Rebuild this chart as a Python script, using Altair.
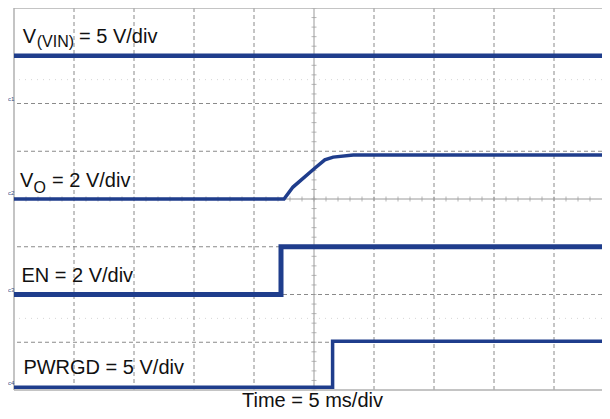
import altair as alt
import pandas as pd

# ---- data (in scope divisions) ----
vin_t = [-5.0, 4.8]
vin_v = [3.0, 3.0]
vo_t = [-5.0, -0.5, -0.35, 0.017, 0.18, 0.32, 0.655, 4.8]
vo_v = [0.0, 0.0, 0.25, 0.65, 0.82, 0.877, 0.92, 0.92]
en_t = [-5.0, -0.55, -0.55, 4.8]
en_v = [-2.0, -2.0, -1.0, -1.0]
pg_t = [-5.0, 0.31, 0.31, 4.8]
pg_v = [-3.94, -3.94, -2.98, -2.98]

grid_x = [-4, -3, -2, -1, 1, 2, 3, 4]
grid_y = [-3, -2, -1, 1, 2, 3]
faint_y = [2.5, -2.5]
ch_labels = ["c1", "c2", "c3", "c4"]
ch_levels = [2.1, 0.12, -1.9, -3.85]

X_DOM = [-5.0, 4.8]
Y_DOM = [-4.0, 4.0]
TRACE = "#1f3d8c"
FONT = "Liberation Sans"

xs = alt.Scale(domain=X_DOM, nice=False, zero=False)
ys = alt.Scale(domain=Y_DOM, nice=False, zero=False)


def trace(ts, vs, sw):
    df = pd.DataFrame({"t": ts, "v": vs, "i": list(range(len(ts)))})
    return alt.Chart(df).mark_line(color=TRACE, strokeWidth=sw, strokeJoin="miter", strokeCap="butt").encode(
        x=alt.X("t:Q", scale=xs, axis=None),
        y=alt.Y("v:Q", scale=ys, axis=None),
        order="i:Q",
    )


# grid
gx = alt.Chart(pd.DataFrame({"x": grid_x})).mark_rule(color="#8a8a8a", strokeWidth=1, strokeDash=[4, 3]).encode(
    x=alt.X("x:Q", scale=xs, axis=None))
gy = alt.Chart(pd.DataFrame({"y": grid_y})).mark_rule(color="#8a8a8a", strokeWidth=1, strokeDash=[4, 3]).encode(
    y=alt.Y("y:Q", scale=ys, axis=None))
fy = alt.Chart(pd.DataFrame({"y": faint_y})).mark_rule(color="#d6d6d6", strokeWidth=1, strokeDash=[1, 5]).encode(
    y=alt.Y("y:Q", scale=ys, axis=None))
cx = alt.Chart(pd.DataFrame({"x": [0]})).mark_rule(color="#9a9a9a", strokeWidth=1).encode(
    x=alt.X("x:Q", scale=xs, axis=None))
cy = alt.Chart(pd.DataFrame({"y": [0]})).mark_rule(color="#9a9a9a", strokeWidth=1).encode(
    y=alt.Y("y:Q", scale=ys, axis=None))
border_v = alt.Chart(pd.DataFrame({"x": [X_DOM[0]]})).mark_rule(color="#b0b0b0", strokeWidth=1.5).encode(
    x=alt.X("x:Q", scale=xs, axis=None))
border_h = alt.Chart(pd.DataFrame({"y": [Y_DOM[1], Y_DOM[0]]})).mark_rule(color="#b0b0b0", strokeWidth=1.5).encode(
    y=alt.Y("y:Q", scale=ys, axis=None))

# minor ticks on the centre cross
tx = [round(-5 + 0.2 * k, 2) for k in range(49)]
ty = [round(-4 + 0.2 * k, 2) for k in range(41)]
ticks_x = alt.Chart(pd.DataFrame({"x": tx, "y": [0] * len(tx)})).mark_tick(
    orient="vertical", color="#9a9a9a", size=5, thickness=1).encode(
    x=alt.X("x:Q", scale=xs, axis=None), y=alt.Y("y:Q", scale=ys, axis=None))
ticks_y = alt.Chart(pd.DataFrame({"x": [0] * len(ty), "y": ty})).mark_tick(
    orient="horizontal", color="#9a9a9a", size=5, thickness=1).encode(
    x=alt.X("x:Q", scale=xs, axis=None), y=alt.Y("y:Q", scale=ys, axis=None))

# channel markers
chm = alt.Chart(pd.DataFrame({"lab": ch_labels, "y": ch_levels})).mark_text(
    font=FONT, fontSize=6, color="#3b4f86", align="left", baseline="middle").encode(
    x=alt.value(-6), y=alt.Y("y:Q", scale=ys, axis=None), text="lab:N")


def label(txt, x, y, size=20, align="left"):
    return alt.Chart(pd.DataFrame({"a": [0]})).mark_text(
        text=txt, font=FONT, fontSize=size, color="#111111", align=align, baseline="alphabetic").encode(
        x=alt.value(x), y=alt.value(y))


labels = [
    label("V", 8.7, 35), label("(VIN)", 22.7, 38.5, size=16), label("= 5 V/div", 65, 35),
    label("V", 6, 178.7), label("O", 19.5, 185, size=16), label("= 2 V/div", 38, 178.7),
    label("EN = 2 V/div", 7.4, 274.3),
    label("PWRGD = 5 V/div", 9.4, 366.3),
    label("Time = 5 ms/div", 298.5, 398.5, align="center"),
]

chart = alt.layer(
    fy, gx, gy, cx, cy, ticks_x, ticks_y, border_v, border_h,
    trace(vin_t, vin_v, 4.5),
    trace(vo_t, vo_v, 3.5),
    trace(en_t, en_v, 5),
    trace(pg_t, pg_v, 3.5),
    chm,
    *labels,
).properties(
    width=588, height=382,
    autosize=alt.AutoSizeParams(type="none"),
    padding={"left": 6, "top": 0, "right": 0, "bottom": 21},
).configure_view(strokeWidth=0)

chart.save("out.html", embed_options={"renderer": "svg", "actions": False})
